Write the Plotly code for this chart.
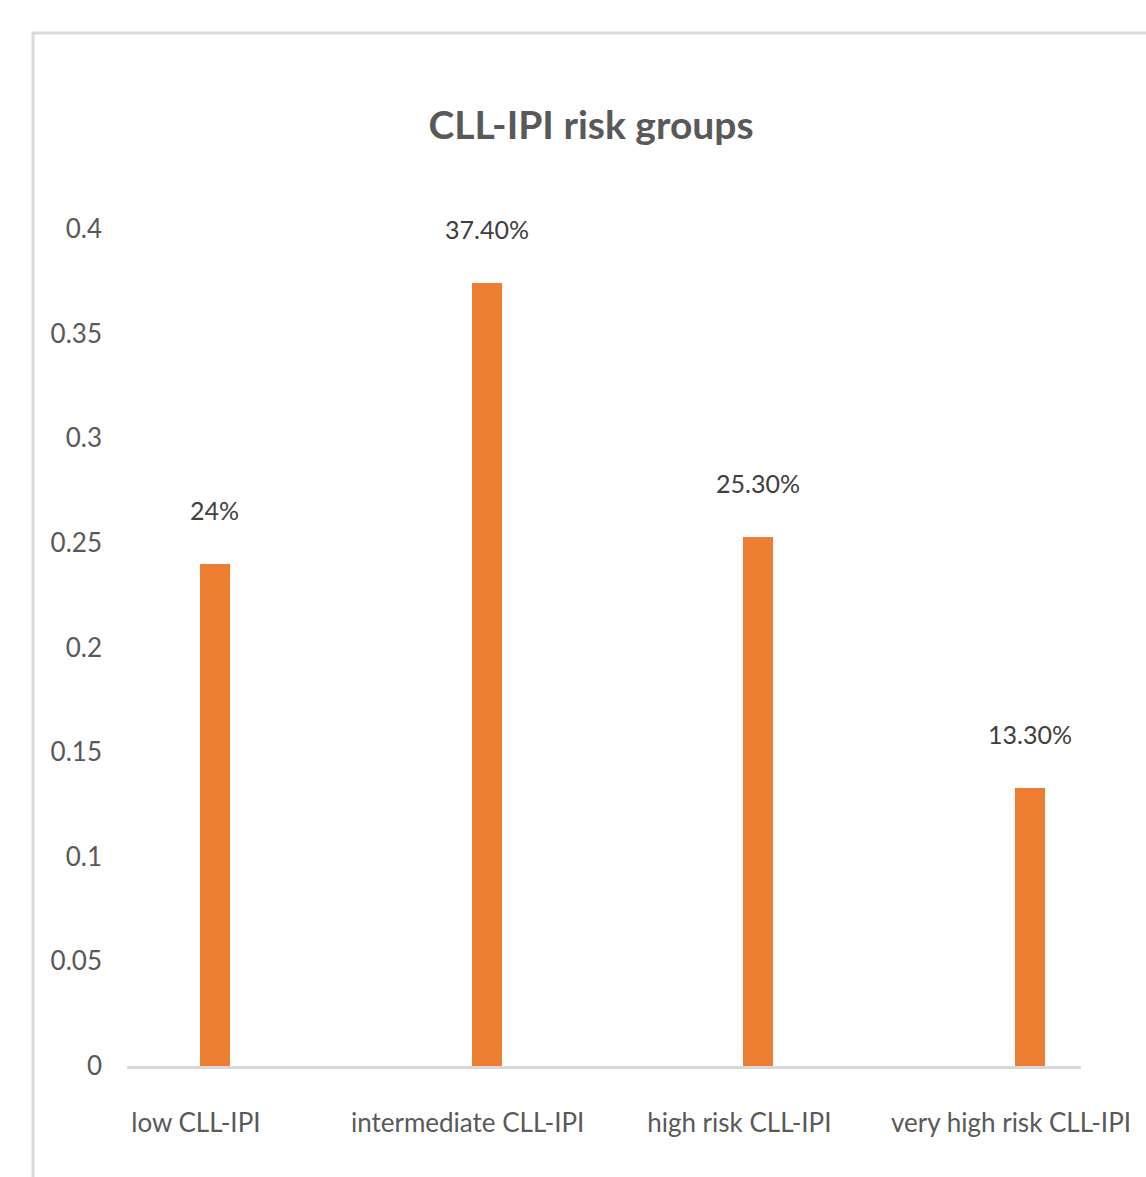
import plotly.graph_objects as go

# CLL-IPI risk group distribution
groups = ["low CLL-IPI", "intermediate CLL-IPI", "high risk CLL-IPI", "very high risk CLL-IPI"]
shares = [0.24, 0.374, 0.253, 0.133]
share_labels = ["24%", "37.40%", "25.30%", "13.30%"]

W, H = 1146, 1177
L, R, T, B = 127, 65, 229, 111
plot_w = W - L - R
plot_h = H - T - B

FONT = "Lato, Liberation Sans, Arial"
GREY = "#595959"

fig = go.Figure()
fig.add_trace(go.Bar(
    x=groups,
    y=shares,
    width=0.11,
    marker=dict(color="#ED7D31", line=dict(width=0)),
    hoverinfo="skip",
))

# value labels above each bar
for g, v, t in zip(groups, shares, share_labels):
    fig.add_annotation(
        x=g, y=v, text=t, showarrow=False,
        yanchor="middle", yshift=54,
        font=dict(family=FONT, size=25, color="#404040"),
    )

# chart-area frame
def px_x(p):
    return (p - L) / plot_w

def px_y(p):
    return (H - B - p) / plot_h

fig.add_shape(
    type="rect", xref="paper", yref="paper",
    x0=px_x(33), x1=px_x(1175), y0=px_y(1200), y1=px_y(33),
    line=dict(color="#d9d9d9", width=3), fillcolor="rgba(0,0,0,0)",
    layer="below",
)

fig.update_layout(
    width=W, height=H,
    margin=dict(l=L, r=R, t=T, b=B, pad=0, autoexpand=False),
    paper_bgcolor="white", plot_bgcolor="white",
    showlegend=False,
    bargap=0,
    title=dict(
        text="<b>CLL-IPI risk groups</b>",
        x=px_x(591), xref="paper", xanchor="center",
        y=1 - 125 / H, yref="container", yanchor="middle",
        font=dict(family=FONT, size=39, color=GREY),
        automargin=False,
    ),
    xaxis=dict(
        type="category",
        range=[-0.3235, 3.1875],
        automargin=False,
        showline=True, linecolor="#d9d9d9", linewidth=3,
        showgrid=False, zeroline=False, ticks="",
        ticklabelshift=-19, ticklabelstandoff=32,
        tickfont=dict(family=FONT, size=26, color=GREY),
    ),
    yaxis=dict(
        range=[0, 0.4], dtick=0.05, tick0=0,
        automargin=False,
        showgrid=False, zeroline=False, showline=False, ticks="",
        ticklabelstandoff=24,
        tickfont=dict(family=FONT, size=26, color=GREY),
    ),
)

fig.write_html("out.html")
